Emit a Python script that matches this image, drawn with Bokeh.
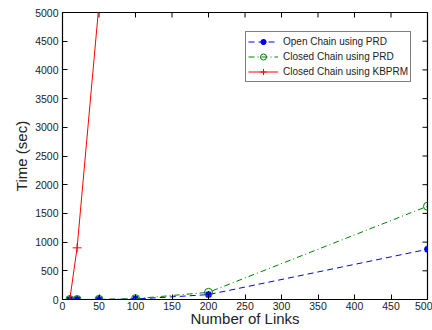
import math
from bokeh.plotting import figure
from bokeh.models import FixedTicker, Legend, LegendItem, Range1d
from bokeh.embed import file_html
from bokeh.resources import INLINE

links = [10, 20, 50, 100, 200, 500]
open_prd = [0, 0, 1, 8, 85, 875]
closed_prd = [0, 0, 2, 15, 125, 1625]
kbprm_links = [10, 20, 50]
kbprm = [0, 900, 5150]

x_ticks = list(range(0, 501, 50))
y_ticks = list(range(0, 5001, 500))
x_max = 500
y_max = 5000

FONT = "Liberation Sans"

p = figure(width=432, height=330, output_backend="svg", toolbar_location=None,
           x_range=Range1d(0, x_max), y_range=Range1d(0, y_max),
           min_border_left=62, min_border_right=5, min_border_top=12, min_border_bottom=31,
           background_fill_color="white", border_fill_color="white")
p.grid.visible = False
p.outline_line_color = "black"
p.outline_line_width = 1.2

for ax, t in ((p.xaxis[0], x_ticks), (p.yaxis[0], y_ticks)):
    ax.ticker = FixedTicker(ticks=t)
    ax.major_tick_in = 5
    ax.major_tick_out = 0
    ax.minor_tick_line_color = None
    ax.axis_line_color = "black"
    ax.major_label_text_font = FONT
    ax.major_label_text_font_size = "10.5px"
    ax.major_label_text_color = "#222222"
    ax.axis_label_text_font = FONT
    ax.axis_label_text_font_size = "15px"
    ax.axis_label_text_font_style = "normal"
    ax.axis_label_text_color = "#222222"

p.xaxis.axis_label = "Number of Links"
p.yaxis.axis_label = "Time (sec)"
p.xaxis.major_label_standoff = 2
p.xaxis.axis_label_standoff = -3
p.yaxis.major_label_standoff = 4
p.yaxis.axis_label_standoff = 2

# inward ticks on the top and right borders (clipped to the frame)
p.scatter(x_ticks, [y_max] * len(x_ticks), marker="dash", angle=math.pi / 2, size=10,
          line_color="black", line_width=1)
p.scatter([x_max] * len(y_ticks), y_ticks, marker="dash", size=10,
          line_color="black", line_width=1)

l1 = p.line(links, open_prd, line_color="blue", line_dash="6 4", line_width=1)
s1 = p.scatter(links, open_prd, marker="asterisk", size=7, line_color="blue", line_width=2)
s1b = p.scatter(links, open_prd, marker="circle", size=4, fill_color="blue", line_color="blue")
l2 = p.line(links, closed_prd, line_color="green", line_dash="6 3 1 3", line_width=1)
s2 = p.scatter(links, closed_prd, marker="circle", size=8, fill_color=None, line_color="green", line_width=1)
l3 = p.line(kbprm_links, kbprm, line_color="red", line_width=1)
s3 = p.scatter(kbprm_links, kbprm, marker="cross", size=9, line_color="red", line_width=1)

legend = Legend(items=[
    LegendItem(label="Open Chain using PRD", renderers=[l1, s1]),
    LegendItem(label="Closed Chain using PRD", renderers=[l2, s2]),
    LegendItem(label="Closed Chain using KBPRM", renderers=[l3, s3]),
], location=(183, 217))
legend.margin = 0
legend.padding = 2
legend.spacing = 0
legend.glyph_width = 30
legend.glyph_height = 15
legend.label_height = 15
legend.label_standoff = 5
legend.label_text_font = FONT
legend.label_text_font_size = "10px"
legend.label_text_color = "#222222"
legend.border_line_color = "black"
legend.border_line_width = 1
legend.background_fill_alpha = 1
p.add_layout(legend, "center")

open("out.html", "w").write(file_html(p, INLINE))
